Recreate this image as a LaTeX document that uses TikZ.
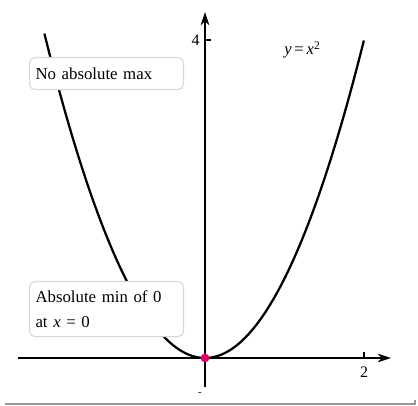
\documentclass[tikz,border=0pt]{standalone}
\usepackage{fontspec}
\setmainfont{Liberation Serif}
\usetikzlibrary{arrows.meta}
\definecolor{dotcol}{RGB}{220,0,100}
\definecolor{boxline}{RGB}{215,215,215}
\tikzset{
  axis/.style={line width=0.8pt,-{Stealth[length=10pt,width=6.5pt]}},
  curve/.style={line width=1.7pt,black},
  infobox/.style={draw=boxline,line width=0.8pt,fill=white,rounded corners=4pt,
    anchor=north west,minimum width=115.5pt,inner xsep=4.5pt,inner ysep=0pt,
    text width=106.5pt,align=left,font=\fontsize{12.6}{18.75}\selectfont},
  ticklabel/.style={font=\fontsize{12}{14}\selectfont,inner sep=0pt}
}
\begin{document}
\begin{tikzpicture}[x=0.75pt,y=-0.75pt]
\useasboundingbox (0,0) rectangle (418,406);
% axes
\coordinate (xs) at (18,358);
\coordinate (xe) at (391,358);
\coordinate (ys) at (205,387);
\coordinate (ye) at (205,12);
\draw[axis] (xs) -- (xe);
\draw[axis] (ys) -- (ye);
% ticks
\coordinate (t4a) at (205,40); \coordinate (t4b) at (211,40);
\coordinate (t2a) at (364,358); \coordinate (t2b) at (364,352);
\draw[line width=0.8pt] (t4a) -- (t4b);
\draw[line width=0.8pt] (t2a) -- (t2b);
\node[ticklabel,anchor=east] (l4) at (200,40) {4};
\node[ticklabel] (l2) at (364,372) {2};
\node[font=\fontsize{8}{9}\selectfont,inner sep=0pt] (lm) at (200,394) {-};
% curve
\draw[curve] plot[domain=-2.02:2,samples=120] ({205+79.5*\x},{358-79.5*\x*\x});
% label
\node[font=\fontsize{12.5}{14}\selectfont,anchor=base west,inner sep=0pt] (eq) at (284,55)
  {\textit{y}\,=\,\textit{x}\textsuperscript{2}};
% boxes
\node[infobox,minimum height=24pt] (b1) at (29,57) {No absolute max};
\node[infobox,minimum height=41.25pt] (b2) at (29,281) {Absolute min of 0\\at \textit{x} = 0};
% dot
\fill[dotcol] (205,358) circle (3.3pt);
\node[inner sep=0pt] (o) at (205,358) {};
% frame bottom
\coordinate (fa) at (5,404); \coordinate (fb) at (415,404); \coordinate (fc) at (415,400);
\draw[gray!80,line width=1.2pt] (fa) -- (fb) -- (fc);
\end{tikzpicture}
\end{document}
